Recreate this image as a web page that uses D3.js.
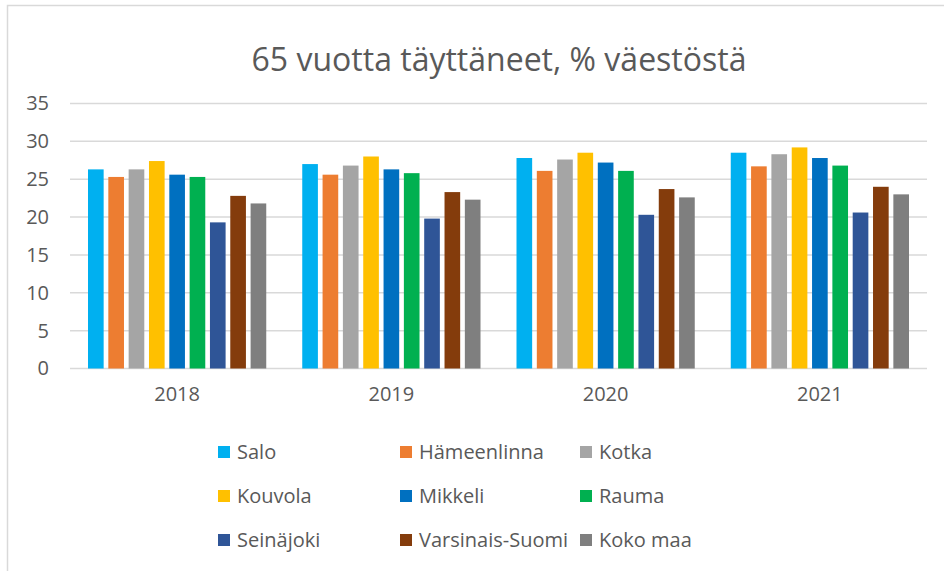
<!DOCTYPE html>
<html>
<head>
<meta charset="utf-8">
<script src="https://cdn.jsdelivr.net/npm/d3@7"></script>
<style>
  body { margin: 0; background: #fff; }
  svg { font-family: "Open Sans", sans-serif; }
</style>
</head>
<body>
<div id="chart"></div>
<script>
// Data
const years = ["2018", "2019", "2020", "2021"];
const regions = ["Salo", "Hämeenlinna", "Kotka", "Kouvola", "Mikkeli", "Rauma",
                 "Seinäjoki", "Varsinais-Suomi", "Koko maa"];
const colors = ["#00B0F0", "#ED7D31", "#A5A5A5", "#FFC000", "#0070C0", "#00B050",
                "#2F5597", "#843C0C", "#7F7F7F"];
const salo = [26.3, 27.0, 27.8, 28.5];
const hameenlinna = [25.3, 25.6, 26.1, 26.7];
const kotka = [26.3, 26.8, 27.6, 28.3];
const kouvola = [27.4, 28.0, 28.5, 29.2];
const mikkeli = [25.6, 26.3, 27.2, 27.8];
const rauma = [25.3, 25.8, 26.1, 26.8];
const seinajoki = [19.3, 19.8, 20.3, 20.6];
const varsinaisSuomi = [22.8, 23.3, 23.7, 24.0];
const kokoMaa = [21.8, 22.3, 22.6, 23.0];
const yTicks = [0, 5, 10, 15, 20, 25, 30, 35];

const series = [salo, hameenlinna, kotka, kouvola, mikkeli, rauma, seinajoki, varsinaisSuomi, kokoMaa];

const width = 944, height = 571;
const plot = { left: 70, right: 927, top: 103.5, bottom: 368.5 };

const svg = d3.select("#chart").append("svg")
    .attr("width", width)
    .attr("height", height);

// chart border
svg.append("rect")
    .attr("x", 7.5).attr("y", 5.5)
    .attr("width", width + 10).attr("height", height + 10)
    .attr("fill", "#fff")
    .attr("stroke", "#d9d9d9")
    .attr("stroke-width", 1.5);

// title
svg.append("text")
    .attr("x", 499).attr("y", 71)
    .attr("text-anchor", "middle")
    .attr("fill", "#595959")
    .style("font-size", "32px")
    .text("65 vuotta täyttäneet, % väestöstä");

const x0 = d3.scaleBand().domain(years).range([plot.left, plot.right]).padding(0);
const x1 = d3.scaleBand().domain(regions)
    .range([18, x0.bandwidth() - 18])
    .paddingInner(0.23).paddingOuter(0);
const y = d3.scaleLinear().domain([0, 35]).range([plot.bottom, plot.top]);

// gridlines
svg.append("g")
    .selectAll("line")
    .data(yTicks)
    .join("line")
    .attr("x1", plot.left).attr("x2", plot.right)
    .attr("y1", d => y(d)).attr("y2", d => y(d))
    .attr("stroke", "#d9d9d9")
    .attr("stroke-width", 1.5);

// y axis labels
const yAxis = svg.append("g")
    .attr("transform", `translate(${plot.left},0)`)
    .call(d3.axisLeft(y).tickValues(yTicks).tickSize(0).tickPadding(21));
yAxis.select(".domain").remove();
yAxis.selectAll("text")
    .attr("fill", "#595959")
    .style("font-size", "20px")
    .style("font-family", "'Open Sans', sans-serif");

// x axis labels
const xAxis = svg.append("g")
    .attr("transform", `translate(0,${plot.bottom})`)
    .call(d3.axisBottom(x0).tickSize(0).tickPadding(18));
xAxis.select(".domain").remove();
xAxis.selectAll("text")
    .attr("fill", "#595959")
    .style("font-size", "20px")
    .style("font-family", "'Open Sans', sans-serif");

// bars
const groups = svg.append("g")
    .selectAll("g")
    .data(years)
    .join("g")
    .attr("transform", d => `translate(${x0(d)},0)`);

groups.selectAll("rect")
    .data((yr, i) => regions.map((r, j) => ({ region: r, value: series[j][i], color: colors[j] })))
    .join("rect")
    .attr("x", d => x1(d.region))
    .attr("width", x1.bandwidth())
    .attr("y", d => y(d.value))
    .attr("height", d => y(0) - y(d.value))
    .attr("fill", d => d.color);

// legend: 3 columns x 3 rows
const legendCols = [218, 400, 580];
const legendRows = [452, 496, 540];
const legend = svg.append("g")
    .selectAll("g")
    .data(regions)
    .join("g")
    .attr("transform", (d, i) => `translate(${legendCols[i % 3]},${legendRows[Math.floor(i / 3)]})`);

legend.append("rect")
    .attr("x", 0).attr("y", -6)
    .attr("width", 12).attr("height", 12)
    .attr("fill", (d, i) => colors[i]);

legend.append("text")
    .attr("x", 19).attr("y", 0)
    .attr("dy", "0.35em")
    .attr("fill", "#595959")
    .style("font-size", "20px")
    .text(d => d);
</script>
</body>
</html>
